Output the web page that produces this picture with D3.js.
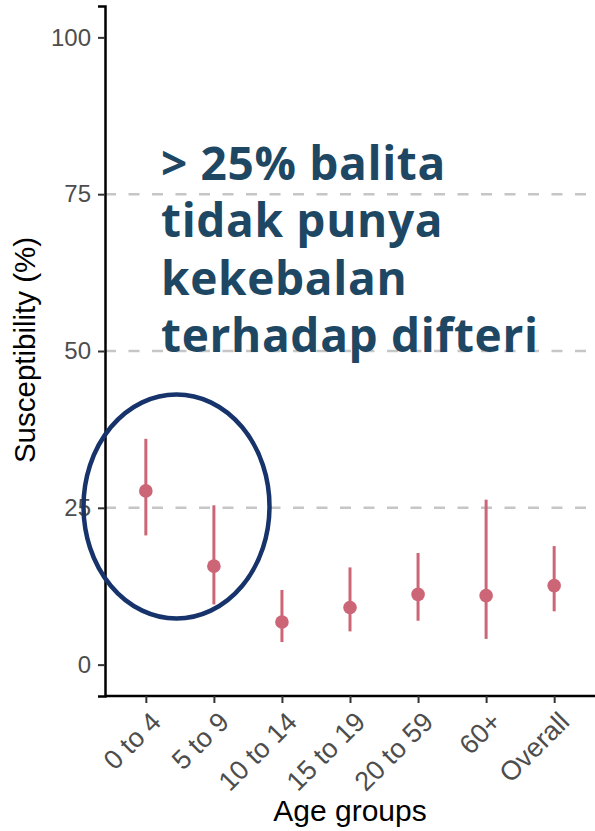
<!DOCTYPE html>
<html>
<head>
<meta charset="utf-8">
<script src="https://cdn.jsdelivr.net/npm/d3@7"></script>
<style>
  body { margin: 0; background: #fff; }
  svg { display: block; }
  .axis text { font-family: "Liberation Sans", Arial, sans-serif; fill: #4d4d4d; }
  .axis .domain { stroke: #000; stroke-width: 2.5; }
  .axis .tick line { stroke: #333; stroke-width: 2; }
</style>
</head>
<body>
<script>
// data
var groups = ["0 to 4", "5 to 9", "10 to 14", "15 to 19", "20 to 59", "60+", "Overall"];
var estimate = [27.7, 15.7, 6.8, 9.1, 11.2, 11.0, 12.6];
var lower    = [20.6, 9.6, 3.6, 5.3, 7.0, 4.1, 8.5];
var upper    = [36.0, 25.4, 11.9, 15.5, 17.8, 26.3, 18.9];
var yTicks   = [0, 25, 50, 75, 100];
var refLines = [25, 50, 75];
var noteLines = ["> 25% balita", "tidak punya", "kekebalan", "terhadap difteri"];

var W = 595, H = 831;
var pink = "#cc6677";

var svg = d3.select("body").append("svg")
    .attr("width", W)
    .attr("height", H);

// scales (ggplot style expansion on y)
var x = d3.scalePoint().domain(groups).range([105, 595]).padding(0.6);
var y = d3.scaleLinear().domain([-5, 105]).range([696, 6]);

// dashed reference lines
svg.append("g")
   .selectAll("line")
   .data(refLines)
   .enter().append("line")
   .attr("x1", 105).attr("x2", W)
   .attr("y1", function(d) { return y(d); })
   .attr("y2", function(d) { return y(d); })
   .attr("stroke", "#c6c6c6")
   .attr("stroke-width", 2.5)
   .attr("stroke-dasharray", "11,12.5");

// note text
var note = svg.append("text")
    .attr("x", 161)
    .attr("fill", "#1e4763")
    .style("font-family", "'Open Sans', Lato, sans-serif")
    .style("font-weight", 700)
    .style("font-size", "46px");
note.selectAll("tspan")
    .data(noteLines)
    .enter().append("tspan")
    .attr("x", 161)
    .attr("y", function(d, i) { return 180 + i * 57.3; })
    .text(function(d) { return d; });

// fit the longest line to its width in the picture
var last = note.selectAll("tspan").nodes()[3];
var gap = (377 - last.getComputedTextLength()) / (noteLines[3].length - 1);
note.style("letter-spacing", gap + "px");

// error bars
svg.append("g")
   .selectAll("line")
   .data(groups)
   .enter().append("line")
   .attr("x1", function(d) { return x(d); })
   .attr("x2", function(d) { return x(d); })
   .attr("y1", function(d, i) { return y(lower[i]); })
   .attr("y2", function(d, i) { return y(upper[i]); })
   .attr("stroke", pink)
   .attr("stroke-width", 3);

// points
svg.append("g")
   .selectAll("circle")
   .data(groups)
   .enter().append("circle")
   .attr("cx", function(d) { return x(d); })
   .attr("cy", function(d, i) { return y(estimate[i]); })
   .attr("r", 6.8)
   .attr("fill", pink);

// y axis
svg.append("g")
   .attr("class", "axis")
   .attr("transform", "translate(105,0)")
   .call(d3.axisLeft(y)
           .tickValues(yTicks)
           .tickSizeOuter(0)
           .tickSize(7)
           .tickPadding(7))
   .selectAll("text")
   .style("font-size", "24px");

// x axis
var xAxis = svg.append("g")
   .attr("class", "axis")
   .attr("transform", "translate(0,696)")
   .call(d3.axisBottom(x)
           .tickSizeOuter(0)
           .tickSize(7));
xAxis.select(".domain").attr("d", "M105,0H" + W);
xAxis.selectAll("text")
   .style("font-size", "27px")
   .attr("text-anchor", "end")
   .attr("x", -8)
   .attr("y", 31)
   .attr("dy", 0)
   .attr("transform", "rotate(-45)");

// axis titles
svg.append("text")
   .attr("x", 350).attr("y", 821)
   .attr("text-anchor", "middle")
   .style("font-family", "'Liberation Sans', Arial, sans-serif")
   .style("font-size", "30px")
   .attr("fill", "#000")
   .text("Age groups");

svg.append("text")
   .attr("transform", "translate(35,350) rotate(-90)")
   .attr("text-anchor", "middle")
   .style("font-family", "'Liberation Sans', Arial, sans-serif")
   .style("font-size", "29.5px")
   .attr("fill", "#000")
   .text("Susceptibility (%)");

// highlight ellipse round the youngest groups
svg.append("ellipse")
   .attr("cx", 176.5).attr("cy", 506.5)
   .attr("rx", 93).attr("ry", 112)
   .attr("fill", "none")
   .attr("stroke", "#17336b")
   .attr("stroke-width", 4.5);
</script>
</body>
</html>
